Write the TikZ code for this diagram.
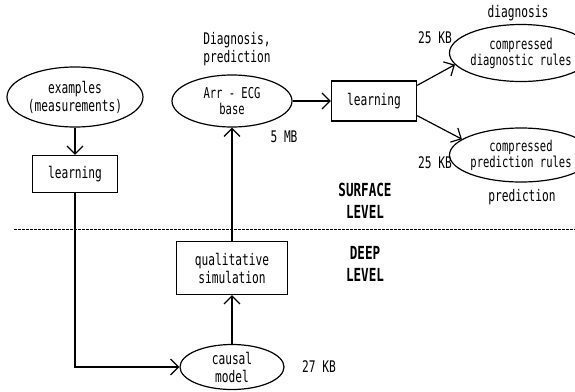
\documentclass[tikz,border=0pt]{standalone}
\usepackage{fontspec}
\setmonofont[FakeStretch=0.7]{DejaVu Sans Mono}
\usepackage{tikz}
\usetikzlibrary{arrows.meta, calc, shapes.geometric}

\begin{document}
\begin{tikzpicture}[x=1pt, y=-1pt, >={Straight Barb[length=8pt,width=16pt]},
  every node/.style={font=\ttfamily\fontsize{16}{18}\selectfont, align=center},
  tight/.style={font=\ttfamily\fontsize{15}{16}\selectfont},
  level/.style={font=\ttfamily\bfseries\fontsize{18}{22}\selectfont},
  blob/.style={draw, ellipse, line width=1.2pt, inner sep=0pt},
  box/.style={draw, rectangle, line width=1.2pt, inner sep=0pt},
  conn/.style={line width=1.2pt, ->}]
  \useasboundingbox (0,0) rectangle (575,391);

  % Surface / deep boundary
  \coordinate (lineL) at (14,229);
  \coordinate (lineR) at (575,229);
  \draw[line width=0.6pt, dash pattern=on 3pt off 1pt] (lineL) -- (lineR);

  % Left column
  \node[blob, minimum width=136, minimum height=60] (examples) at (75,97)
    {examples\\(measurements)};
  \node[box, minimum width=85, minimum height=37] (learn1) at (75,174) {learning};

  % Middle column
  \node (diagpred) at (237,49) {Diagnosis,\\prediction};
  \node[blob, tight, minimum width=120, minimum height=52] (arr) at (232,101)
    {Arr - ECG\\base};
  \node (sizeA) at (284,137) {5 MB};
  \node[box, minimum width=111, minimum height=53] (qual) at (232,268)
    {qualitative\\simulation};
  \node[blob, minimum width=104, minimum height=45] (causal) at (232,367)
    {causal\\model};
  \node (sizeC) at (319,367) {27 KB};

  % Right side
  \node[box, minimum width=85, minimum height=40] (learn2) at (374,101) {learning};
  \node (diaglab) at (518,13) {diagnosis};
  \node[blob, tight, minimum width=112, minimum height=57] (diagr) at (521,53)
    {compressed\\diagnostic rules};
  \node (sizeD) at (435,38) {25 KB};
  \node[blob, tight, minimum width=112, minimum height=54] (predr) at (521,155)
    {compressed\\prediction rules};
  \node (sizeP) at (435,163) {25 KB};
  \node (predlab) at (522,197) {prediction};

  % Level labels
  \node[level] (surface) at (365,201) {SURFACE\\LEVEL};
  \node[level] (deep) at (365,264) {DEEP\\LEVEL};

  % Connectors
  \draw[conn] (examples) -- (learn1);
  \draw[conn] (learn1.south) |- (causal.west);
  \draw[conn] (causal) -- (qual);
  \draw[conn] (qual) -- (arr);
  \draw[conn] (arr) -- (learn2);
  \draw[conn] ($(learn2.north east)+(0,5)$) -- (diagr.190);
  \draw[conn] ($(learn2.south east)+(0,-6)$) -- (predr.165);
\end{tikzpicture}
\end{document}
